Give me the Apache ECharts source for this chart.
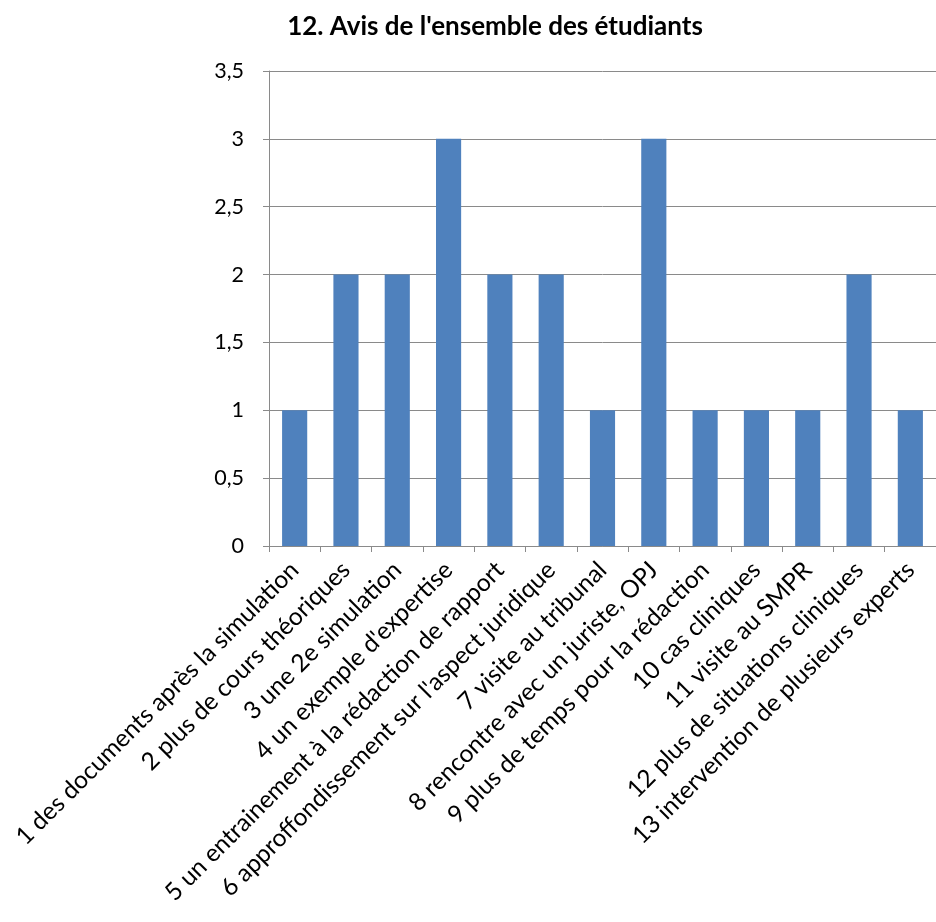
<!DOCTYPE html>
<html><head><meta charset="utf-8">
<script src="https://cdn.jsdelivr.net/npm/echarts@6/dist/echarts.min.js"></script>
<style>html,body{margin:0;padding:0;background:#fff}#c{width:936px;height:922px}</style>
</head><body><div id="c"></div>
<script>
const categories = [
  "1 des documents après la simulation",
  "2 plus de cours théoriques",
  "3 une 2e simulation",
  "4 un exemple d'expertise",
  "5 un entrainement à la rédaction de rapport",
  "6 approffondissement sur l'aspect juridique",
  "7 visite au tribunal",
  "8 rencontre avec un juriste, OPJ",
  "9 plus de temps pour la rédaction",
  "10 cas cliniques",
  "11 visite au SMPR",
  "12 plus de situations cliniques",
  "13 intervention de plusieurs experts"
];
const values = [1, 2, 2, 3, 2, 2, 1, 3, 1, 1, 1, 2, 1];
const titleText = "12. Avis de l'ensemble des étudiants";
const FONT = "Lato, 'Liberation Sans', sans-serif";
const chart = echarts.init(document.getElementById('c'), null, {renderer: 'canvas'});
chart.setOption({
  animation: false,
  title: {
    text: titleText, left: 490, top: 9, textAlign: 'center',
    textStyle: {fontFamily: FONT, fontWeight: 'bold', fontSize: 26, color: '#000'}
  },
  grid: {left: 269, right: 0, top: 71, bottom: 376, containLabel: false},
  xAxis: {
    type: 'category', data: categories,
    axisLine: {lineStyle: {color: '#8a8a8a', width: 1}},
    axisTick: {show: true, length: 6, lineStyle: {color: '#8a8a8a'}},
    axisLabel: {rotate: 45, interval: 0, margin: 20, color: '#000', fontSize: 24.5, fontFamily: FONT}
  },
  yAxis: {
    type: 'value', min: 0, max: 3.5, interval: 0.5,
    axisLine: {show: true, lineStyle: {color: '#8a8a8a', width: 1}},
    axisTick: {show: true, length: 6, lineStyle: {color: '#8a8a8a'}},
    splitLine: {lineStyle: {color: '#8a8a8a', width: 1}},
    axisLabel: {margin: 25, color: '#000', fontSize: 21.5, fontFamily: FONT,
      formatter: v => String(v).replace('.', ',')}
  },
  series: [{
    type: 'bar', data: values, barWidth: '49%',
    itemStyle: {color: '#4F81BD'}
  }]
});
</script></body></html>
